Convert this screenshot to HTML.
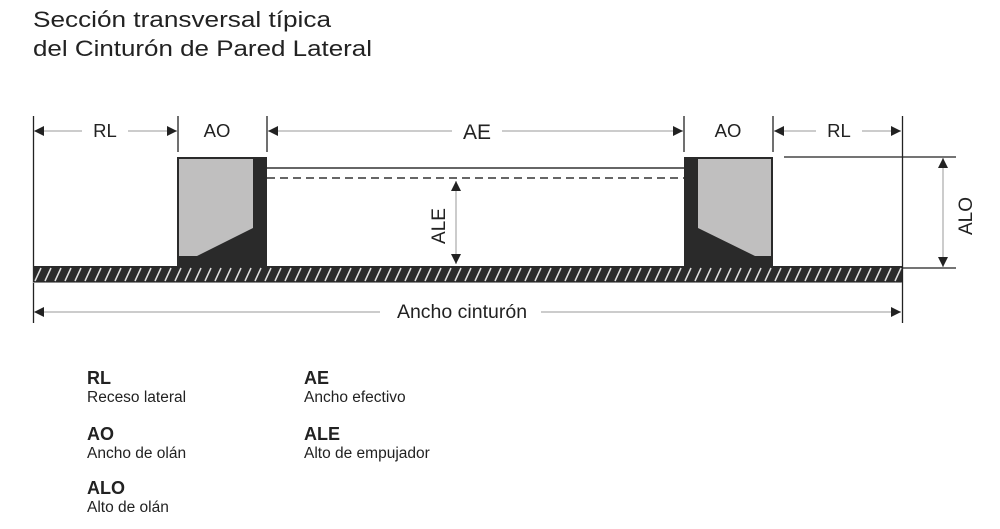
<!DOCTYPE html>
<html><head><meta charset="utf-8"><style>
html,body{margin:0;padding:0;background:#fff}
svg{display:block}
text{font-family:"Liberation Sans",Arial,sans-serif;fill:#222}
</style></head><body>
<svg width="1000" height="529" viewBox="0 0 1000 529" xmlns="http://www.w3.org/2000/svg">
<defs>
<pattern id="h" width="10" height="17" patternUnits="userSpaceOnUse" patternTransform="translate(33,266)">
<rect width="10" height="17" fill="#2a2a2a"/>
<line x1="2" y1="15" x2="8" y2="2" stroke="#ddd" stroke-width="1.5"/>
</pattern>
<marker id="a" viewBox="0 0 10 10" refX="10" refY="5" markerWidth="10" markerHeight="10" markerUnits="userSpaceOnUse" orient="auto-start-reverse">
<path d="M0,0 L10,5 L0,10 z" fill="#222"/>
</marker>
</defs>
<text x="33" y="27" font-size="22.5" textLength="298" lengthAdjust="spacingAndGlyphs">Sección transversal típica</text>
<text x="33" y="56" font-size="22.5" textLength="339" lengthAdjust="spacingAndGlyphs">del Cinturón de Pared Lateral</text>

<line x1="33.5" y1="116" x2="33.5" y2="323" stroke="#222" stroke-width="1.3"/>
<line x1="902.5" y1="116" x2="902.5" y2="323" stroke="#222" stroke-width="1.3"/>
<g stroke="#222" stroke-width="1.3">
<line x1="178" y1="116" x2="178" y2="152"/>
<line x1="267" y1="116" x2="267" y2="152"/>
<line x1="684" y1="116" x2="684" y2="152"/>
<line x1="773" y1="116" x2="773" y2="152"/>
</g>
<g stroke="#bbb" stroke-width="1.5">
<line x1="34" y1="131" x2="82" y2="131" marker-start="url(#a)"/>
<line x1="128" y1="131" x2="177" y2="131" marker-end="url(#a)"/>
<line x1="268" y1="131" x2="452" y2="131" marker-start="url(#a)"/>
<line x1="502" y1="131" x2="683" y2="131" marker-end="url(#a)"/>
<line x1="774" y1="131" x2="816" y2="131" marker-start="url(#a)"/>
<line x1="862" y1="131" x2="901" y2="131" marker-end="url(#a)"/>
</g>
<text x="105" y="137" font-size="18.5" text-anchor="middle">RL</text>
<text x="217" y="137" font-size="18.5" text-anchor="middle">AO</text>
<text x="477" y="139" font-size="21" text-anchor="middle">AE</text>
<text x="728" y="137" font-size="18.5" text-anchor="middle">AO</text>
<text x="839" y="137" font-size="18.5" text-anchor="middle">RL</text>

<line x1="267" y1="168" x2="684" y2="168" stroke="#333" stroke-width="1.5"/>
<line x1="267" y1="178" x2="684" y2="178" stroke="#333" stroke-width="1.5" stroke-dasharray="8,5"/>

<rect x="33" y="266" width="869" height="17" fill="url(#h)"/>
<line x1="33" y1="282.5" x2="902" y2="282.5" stroke="#888" stroke-width="1"/>

<rect x="177" y="157" width="90" height="110" fill="#2a2a2a"/>
<polygon points="179,159 253,159 253,228 197,256 179,256" fill="#c0bfbf"/>
<rect x="684" y="157" width="89" height="110" fill="#2a2a2a"/>
<polygon points="698,159 771,159 771,256 755,256 698,228" fill="#c0bfbf"/>

<line x1="456" y1="181" x2="456" y2="264" stroke="#bbb" stroke-width="1.5" marker-start="url(#a)" marker-end="url(#a)"/>
<text transform="translate(445,226) rotate(-90)" font-size="19" text-anchor="middle">ALE</text>

<line x1="784" y1="157" x2="956" y2="157" stroke="#222" stroke-width="1.3"/>
<line x1="902" y1="268" x2="956" y2="268" stroke="#222" stroke-width="1.3"/>
<line x1="943" y1="158" x2="943" y2="267" stroke="#bbb" stroke-width="1.5" marker-start="url(#a)" marker-end="url(#a)"/>
<text transform="translate(972,216) rotate(-90)" font-size="19" text-anchor="middle">ALO</text>

<line x1="34" y1="312" x2="380" y2="312" stroke="#bbb" stroke-width="1.5" marker-start="url(#a)"/>
<line x1="541" y1="312" x2="901" y2="312" stroke="#bbb" stroke-width="1.5" marker-end="url(#a)"/>
<text x="462" y="318" font-size="19.5" text-anchor="middle">Ancho cinturón</text>

<g font-size="18" font-weight="bold">
<text x="87" y="384">RL</text>
<text x="87" y="440">AO</text>
<text x="87" y="494">ALO</text>
<text x="304" y="384">AE</text>
<text x="304" y="440">ALE</text>
</g>
<g font-size="15.5" fill="#333">
<text x="87" y="402">Receso lateral</text>
<text x="87" y="458">Ancho de olán</text>
<text x="87" y="512">Alto de olán</text>
<text x="304" y="402">Ancho efectivo</text>
<text x="304" y="458">Alto de empujador</text>
</g>
</svg>
</body></html>
